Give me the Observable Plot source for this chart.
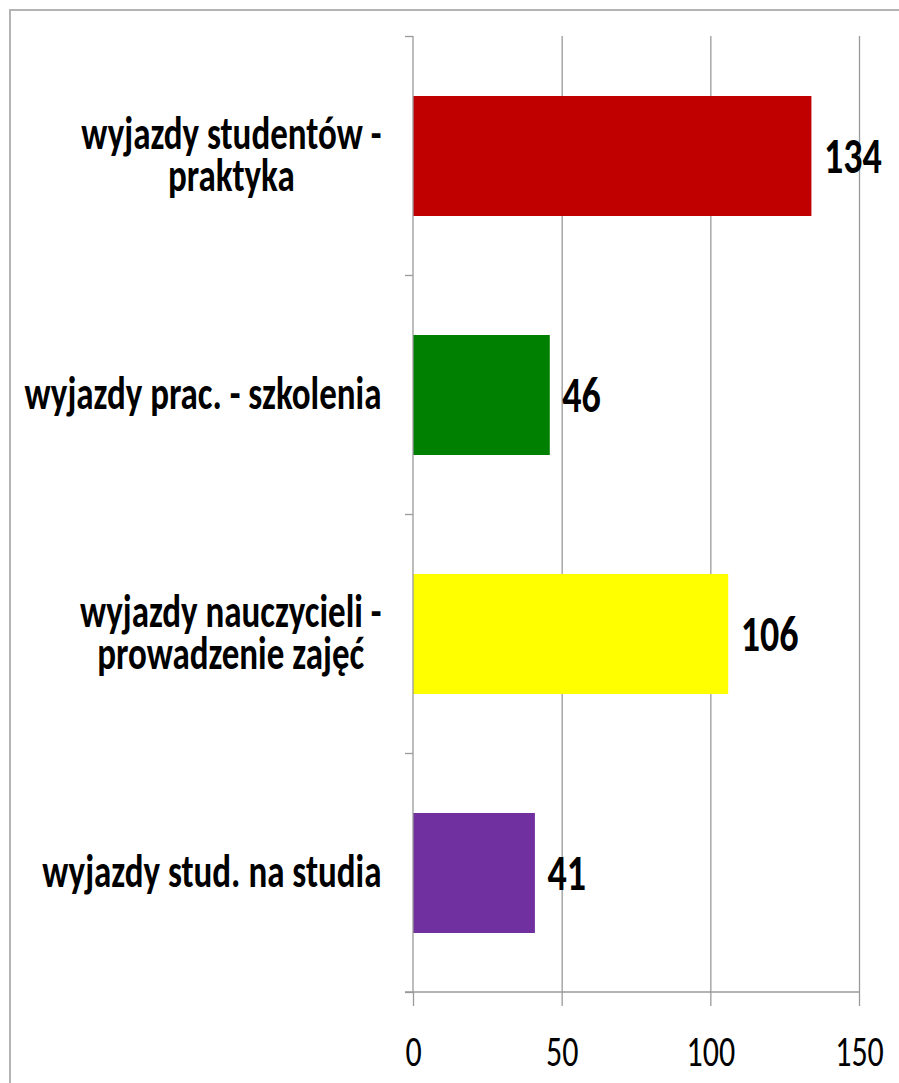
<!DOCTYPE html>
<html>
<head>
<meta charset="utf-8">
<script src="https://cdn.jsdelivr.net/npm/d3@7"></script>
<script src="https://cdn.jsdelivr.net/npm/@observablehq/plot@0.6"></script>
<style>
  html, body { margin: 0; padding: 0; background: #fff; }
  #wrap { position: relative; width: 899px; height: 1083px; overflow: hidden; }
  #border { position: absolute; left: 9px; top: 9px; width: 900px; height: 1100px;
            border-top: 2px solid #b4b4b4; border-left: 2px solid #b4b4b4; }
  #chart { position: absolute; left: 0; top: 0; }
</style>
</head>
<body>
<div id="wrap"><div id="border"></div><div id="chart"></div></div>
<script>
const categories = ["wyjazdy studentów - praktyka", "wyjazdy prac. - szkolenia", "wyjazdy nauczycieli - prowadzenie zajęć", "wyjazdy stud. na studia"];
const labelLines = ["wyjazdy studentów -\npraktyka", "wyjazdy prac. - szkolenia", "wyjazdy nauczycieli -\nprowadzenie zajęć", "wyjazdy stud. na studia"];
const values = [134, 46, 106, 41];
const colors = ["#C00000", "#008000", "#FFFF00", "#7030A0"];
const xTicks = [0, 50, 100, 150];

const data = categories.map((c, i) => ({cat: c, value: values[i], color: colors[i], label: labelLines[i]}));

const FONT = 'Calibri, Carlito, "Liberation Sans", sans-serif';
const STRETCH = 1.35;
const catFontSize = 35;
const ctx = document.createElement("canvas").getContext("2d");
ctx.font = `bold ${catFontSize}px ${FONT}`;
const labelWidths = labelLines.map(l => Math.max(...l.split("\n").map(s => ctx.measureText(s).width)));
const labelGap = 32;

const gray = "#9a9a9a";

function axisLines(index, scales, values, dims) {
  const y = scales.y, x = scales.x;
  const step = y.step(), bw = y.bandwidth();
  const g = d3.create("svg:g").attr("stroke", gray).attr("stroke-width", 1.3);
  const x0 = x(0);
  const bounds = categories.map(c => y(c) - (step - bw) / 2);
  bounds.push(y(categories[categories.length - 1]) + bw + (step - bw) / 2);
  for (const b of bounds) {
    g.append("line").attr("x1", x0 - 8).attr("x2", x0).attr("y1", b).attr("y2", b);
  }
  const yb = dims.height - dims.marginBottom;
  g.append("line").attr("x1", x0).attr("x2", x0).attr("y1", dims.marginTop).attr("y2", yb);
  g.append("line").attr("x1", x0 - 8).attr("x2", x(150)).attr("y1", yb).attr("y2", yb);
  return g.node();
}

const plot = Plot.plot({
  width: 899,
  height: 1083,
  marginLeft: 413,
  marginRight: 40,
  marginTop: 36,
  marginBottom: 91,
  style: {fontFamily: FONT, background: "transparent", overflow: "visible"},
  x: {domain: [0, 150], ticks: xTicks},
  y: {domain: categories, paddingInner: 0.5, paddingOuter: 0.25},
  marks: [
    Plot.gridX(xTicks.filter(t => t > 0), {stroke: gray, strokeOpacity: 1, strokeWidth: 1.3}),
    Plot.barX(data, {x: "value", y: "cat", fill: "color"}),
    axisLines,
    Plot.axisX({ticks: xTicks, tickSize: 14, tickPadding: 29, stroke: gray, strokeWidth: 1.3, strokeOpacity: 1,
                fontSize: 32, fill: "#000", label: null}),
    Plot.axisY({ticks: [], label: null}),
    ...data.map((d, i) => Plot.text([d], {
      x: 0, y: "cat", text: "label", textAnchor: "middle",
      dx: -(labelGap + labelWidths[i] / 2), lineHeight: 0.9,
      fontSize: catFontSize, fontWeight: "bold", fill: "#000"
    })),
    Plot.text(data, {x: "value", y: "cat", text: d => String(d.value), textAnchor: "start", dx: 12,
                     fontSize: 38, fontWeight: "bold", fill: "#000"})
  ]
});

// vertical stretch of the lettering, as in the reference picture (about each text's own anchor)
plot.querySelectorAll("text").forEach(el => {
  const t = el.getAttribute("transform") || "";
  el.setAttribute("transform", (t + ` scale(1,${STRETCH})`).trim());
});

document.getElementById("chart").appendChild(plot);
</script>
</body>
</html>
